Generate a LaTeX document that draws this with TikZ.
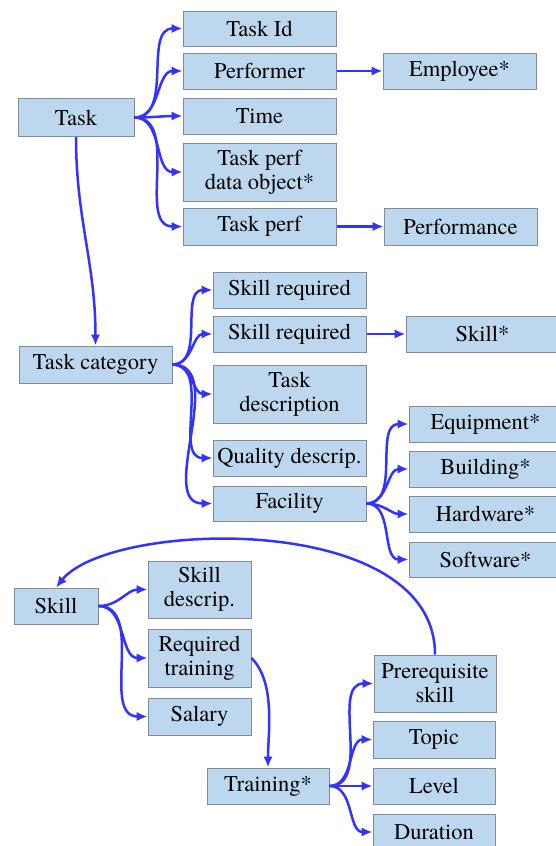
\documentclass[tikz,border=0pt]{standalone}
\usepackage{fontspec}
\setmainfont{TeX Gyre Termes}
\usetikzlibrary{arrows.meta}
\definecolor{boxfill}{RGB}{189,215,238}
\definecolor{boxline}{RGB}{130,140,152}
\definecolor{linkblue}{RGB}{51,51,255}
\tikzset{
  box/.style={draw=boxline, line width=1pt, fill=boxfill, inner sep=0pt,
    minimum width=153pt, minimum height=36pt, align=center,
    font=\fontsize{22.5}{24}\selectfont},
  link/.style={draw=linkblue, line width=2.5pt, -{Latex[length=11pt,width=9.5pt]}},
  fan/.style={link, out=0, in=180}
}
\begin{document}
\begin{tikzpicture}[x=1pt,y=-1pt]
\useasboundingbox (0,0) rectangle (555,846);

% Task and its attributes
\node[box, minimum width=116pt, minimum height=38pt] (task) at (76,117.5) {Task};
\node[box, minimum height=35pt] (taskid) at (259.5,28.5) {Task Id};
\node[box] (performer) at (259.5,71) {Performer};
\node[box] (time) at (259.5,116) {Time};
\node[box, minimum height=58pt] (tpdo) at (259.5,172) {Task perf\\data object*};
\node[box, minimum height=37pt] (taskperf) at (259.5,226.5) {Task perf};
\node[box] (employee) at (459.5,71) {Employee*};
\node[box, minimum height=37pt] (performance) at (460.5,226.5) {Performance};

% Task category and its attributes
\node[box, minimum height=37pt] (taskcat) at (95.5,364.5) {Task category};
\node[box] (skillreqa) at (289.5,290) {Skill required};
\node[box] (skillreqb) at (289.5,334) {Skill required};
\node[box, minimum height=58pt] (taskdesc) at (289.5,394) {Task\\description};
\node[box] (quality) at (289.5,458) {Quality descrip.};
\node[box, minimum height=35pt] (facility) at (289.5,503.5) {Facility};
\node[box] (skillref) at (482.5,334) {Skill*};
\node[box] (equipment) at (485.5,424) {Equipment*};
\node[box] (building) at (485.5,469) {Building*};
\node[box] (hardware) at (485.5,514) {Hardware*};
\node[box, minimum height=35pt] (software) at (485.5,559.5) {Software*};

% Skill and training
\node[box, minimum width=84pt] (skill) at (56,606) {Skill};
\node[box, minimum width=103pt, minimum height=57pt] (skilldesc) at (199.5,589.5) {Skill\\descrip.};
\node[box, minimum width=103pt, minimum height=58pt] (reqtrain) at (199.5,658) {Required\\training};
\node[box, minimum width=103pt, minimum height=37pt] (salary) at (199.5,716.5) {Salary};
\node[box, minimum width=122pt] (training) at (268,786) {Training*};
\node[box, minimum width=122pt, minimum height=57pt] (prereq) at (435,683.5) {Prerequisite\\skill};
\node[box, minimum width=122pt, minimum height=37pt] (topic) at (434,739.5) {Topic};
\node[box, minimum width=122pt] (level) at (434,786) {Level};
\node[box, minimum width=122pt] (duration) at (434,832) {Duration};

% Connectors
\foreach \t in {taskid,performer,time,tpdo,taskperf}
  \draw[fan] (task.east) to (\t.west);
\draw[link] (performer) -- (employee);
\draw[link] (taskperf) -- (performance);
\draw[link] (task.south) to[out=-90,in=90] (taskcat.north);

\foreach \t in {skillreqa,skillreqb,taskdesc,quality,facility}
  \draw[fan] (taskcat.east) to (\t.west);
\draw[link] (skillreqb) -- (skillref);
\foreach \t in {equipment,building,hardware,software}
  \draw[fan] (facility.east) to (\t.west);

\foreach \t in {skilldesc,reqtrain,salary}
  \draw[fan] (skill.east) to (\t.west);
\draw[link] (reqtrain.east) to[out=-45,in=90,looseness=0.8] (training.north);
\foreach \t in {prereq,topic,level,duration}
  \draw[fan] (training.east) to (\t.west);
\draw[link] (prereq.north) .. controls (435,510) and (110,520) .. (skill.north);
\end{tikzpicture}
\end{document}
